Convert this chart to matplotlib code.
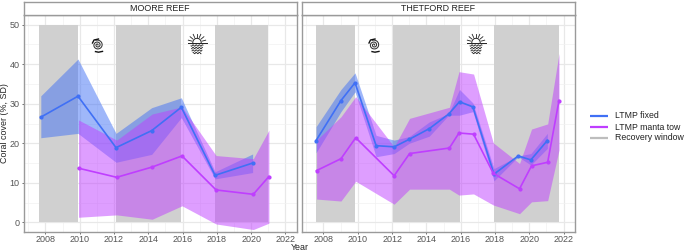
import numpy as np
import matplotlib
matplotlib.use('Agg')
import matplotlib.pyplot as plt
from matplotlib.patches import Rectangle

plt.rcParams['font.family'] = ['Liberation Sans', 'DejaVu Sans']

# Moore reef
moore_fixed_x = [2007.73, 2009.9, 2012.12, 2014.2, 2015.93, 2017.9, 2020.09]
moore_fixed = [26.6, 31.9, 18.9, 23.2, 29.1, 11.9, 15.0]
moore_fixed_hi = [32.0, 41.3, 22.5, 29.0, 31.5, 12.8, 17.3]
moore_fixed_lo = [21.4, 22.5, 15.2, 17.2, 26.5, 11.0, 12.6]
moore_manta_x = [2009.93, 2012.16, 2014.23, 2015.97, 2017.96, 2020.13, 2021.04]
moore_manta = [13.7, 11.4, 14.0, 16.8, 8.2, 7.1, 11.6]
moore_manta_hi = [25.9, 20.8, 27.4, 29.2, 16.9, 16.1, 23.3]
moore_manta_lo = [1.3, 1.9, 0.8, 4.2, -0.4, -1.8, -0.2]
moore_windows = [(2007.65, 2009.9), (2012.14, 2015.93), (2017.9, 2020.98)]

# Thetford reef
thet_fixed_x = [2007.57, 2009.02, 2009.84, 2011.07, 2012.12, 2013.0, 2014.17,
                2015.3, 2015.93, 2016.71, 2017.94, 2019.35, 2020.09, 2021.05]
thet_fixed = [20.7, 30.8, 35.3, 19.4, 19.1, 21.0, 23.7, 27.4, 30.5, 29.2, 12.2, 16.8, 15.8, 20.7]
thet_fixed_hi = [24.2, 33.6, 37.8, 22.0, 20.8, 21.7, 25.4, 27.5, 33.6, 30.2, 13.6, 16.8, 17.4, 22.5]
thet_fixed_lo = [17.6, 28.0, 33.0, 16.6, 17.4, 20.0, 21.8, 27.1, 27.1, 28.0, 10.5, 16.6, 14.5, 18.7]
thet_manta_x = [2007.6, 2009.02, 2009.88, 2012.12, 2013.02, 2015.34, 2015.9,
                2016.75, 2017.9, 2019.43, 2020.13, 2021.07, 2021.73]
thet_manta = [13.1, 16.1, 21.4, 11.8, 17.4, 18.8, 22.6, 22.3, 12.4, 8.5, 14.3, 15.2, 30.8]
thet_manta_hi = [20.8, 26.7, 31.8, 19.1, 26.3, 29.1, 38.1, 37.5, 20.1, 14.9, 23.6, 24.9, 42.7]
thet_manta_lo = [5.9, 5.4, 10.4, 4.6, 8.4, 8.4, 6.9, 7.2, 4.4, 2.2, 5.2, 5.5, 18.3]
thet_windows = [(2007.57, 2009.84), (2012.08, 2015.93), (2017.94, 2021.73)]

x_ticks = [2008, 2010, 2012, 2014, 2016, 2018, 2020, 2022]
y_ticks = [0, 10, 20, 30, 40, 50]
legend_labels = ['LTMP fixed', 'LTMP manta tow', 'Recovery window']

BLUE = '#4070F5'
PURPLE = '#BF3EFF'
BAND = '#D0D0D0'
EDGE = '#9A9A9A'
W, H = 685.0, 252.0


def px_axes(x0, y0, x1, y1):
    # pixel box, y measured from the top of the image
    return fig.add_axes([x0 / W, 1 - y1 / H, (x1 - x0) / W, (y1 - y0) / H])


def icon_axes(x0, y0, x1, y1):
    a = px_axes(x0, y0, x1, y1)
    a.set_xlim(x0, x1)
    a.set_ylim(y1, y0)
    a.axis('off')
    a.patch.set_alpha(0)
    a.set_zorder(8)
    return a


def draw_cyclone(cx, cy):
    a = icon_axes(cx - 9, cy - 9, cx + 9, cy + 9)
    t = np.linspace(0, 4.6 * np.pi, 200)
    r = 0.5 + 0.33 * t
    a.plot(cx + r * np.cos(t), cy - r * np.sin(t) * 0.95, color='#333333', lw=0.75)
    a.plot([cx - 2, cx + 1, cx + 5], [cy + 6.6, cy + 7.2, cy + 6.4], color='#111111', lw=1.0)
    a.plot([cx - 5, cx - 3.5, cx + 1], [cy - 2, cy - 5, cy - 6], color='#111111', lw=1.0)


def draw_sun(cx, cy):
    a = icon_axes(cx - 11, cy - 12, cx + 11, cy + 12)
    # horizon and half sun
    a.plot([cx - 9.5, cx + 9.5], [cy - 1.5, cy - 1.5], color='#222222', lw=0.7)
    t = np.linspace(0, np.pi, 30)
    a.plot(cx + 4.2 * np.cos(t), cy - 1.5 - 4.2 * np.sin(t), color='#222222', lw=0.7)
    for ang in np.linspace(15, 165, 7):
        c, s = np.cos(np.radians(ang)), np.sin(np.radians(ang))
        a.plot([cx + 5.6 * c, cx + 9 * c], [cy - 1.5 - 5.6 * s, cy - 1.5 - 9 * s],
               color='#222222', lw=0.6)
    # waves
    for dy, half in zip([1.5, 4, 6.5, 9], [6, 5.5, 5, 4]):
        xx = np.linspace(cx - half, cx + half, 40)
        a.plot(xx, cy + dy + 0.7 * np.sin((xx - cx) * 2.0), color='#222222', lw=0.6)


def draw_panel(box, name, fx, f, f_hi, f_lo, mx, m, m_hi, m_lo, windows, show_y):
    x0, x1 = box
    ax = px_axes(x0, 14.7, x1, 232.3)
    ax.set_xlim(2006.72, 2022.68)
    ax.set_ylim(-2.5, 52.5)
    ax.set_xticks(x_ticks)
    ax.set_xticks(np.arange(2007, 2023, 2), minor=True)
    ax.set_yticks(y_ticks)
    ax.set_yticks(np.arange(5, 50, 10), minor=True)
    ax.grid(which='major', color='#E8E8E8', lw=0.9)
    ax.grid(which='minor', color='#F1F1F1', lw=0.5)
    ax.set_axisbelow(True)
    ax.tick_params(which='minor', length=0)
    ax.tick_params(which='major', axis='x', length=1.5, width=0.6, color='#555555',
                   labelsize=6.5, labelcolor='#555555', pad=0.8)
    ax.tick_params(which='major', axis='y', length=1.5 if show_y else 0, width=0.6,
                   color='#555555', labelsize=6.5, labelcolor='#555555', pad=1.2,
                   labelleft=show_y)
    for s in ax.spines.values():
        s.set_color(EDGE)
        s.set_linewidth(1.0)

    for a, b in windows:
        ax.add_patch(Rectangle((a, 0), b - a, 50, fc=BAND, ec='none', zorder=1.5))

    ax.fill_between(fx, f_lo, f_hi, color=BLUE, alpha=0.5, lw=0, zorder=2)
    ax.fill_between(mx, m_lo, m_hi, color=PURPLE, alpha=0.5, lw=0, zorder=2.1)
    ax.plot(fx, f, color=BLUE, lw=1.2, marker='o', ms=2.0, zorder=3)
    ax.plot(mx, m, color=PURPLE, lw=1.2, marker='o', ms=2.0, zorder=3.1)

    # strip title
    st = px_axes(x0, 1.5, x1, 14.7)
    st.set_xticks([])
    st.set_yticks([])
    for s in st.spines.values():
        s.set_color(EDGE)
        s.set_linewidth(1.0)
    st.text(0.5, 0.47, name, transform=st.transAxes, ha='center', va='center',
            fontsize=6.4, color='#222222')
    return ax


fig = plt.figure(figsize=(6.85, 2.52), dpi=100)

ax1 = draw_panel((23.5, 297), 'MOORE REEF', moore_fixed_x, moore_fixed, moore_fixed_hi,
                 moore_fixed_lo, moore_manta_x, moore_manta, moore_manta_hi, moore_manta_lo,
                 moore_windows, True)
ax2 = draw_panel((301.5, 575.3), 'THETFORD REEF', thet_fixed_x, thet_fixed, thet_fixed_hi,
                 thet_fixed_lo, thet_manta_x, thet_manta, thet_manta_hi, thet_manta_lo,
                 thet_windows, False)

draw_cyclone(97.5, 45)
draw_sun(197, 44)
draw_cyclone(374, 45)
draw_sun(476, 44)

fig.text(5 / W, 1 - 123 / H, 'Coral cover (%, SD)', rotation=90, ha='center', va='center',
         fontsize=6.4, color='#222222')
fig.text(299.5 / W, 1 - 247.5 / H, 'Year', ha='center', va='center', fontsize=6.4, color='#222222')

# legend drawn by hand to hold the pixel positions
lg = icon_axes(585, 105, 685, 150)
legend_colors = [BLUE, PURPLE, '#BDBDBD']
for yy, lab, col in zip([116, 127, 138], legend_labels, legend_colors):
    lg.plot([590, 608], [yy, yy], color=col, lw=1.6, solid_capstyle='butt')
    lg.text(615, yy, lab, va='center', ha='left', fontsize=6.3, color='#222222')

fig.savefig('out.png', dpi=100)
